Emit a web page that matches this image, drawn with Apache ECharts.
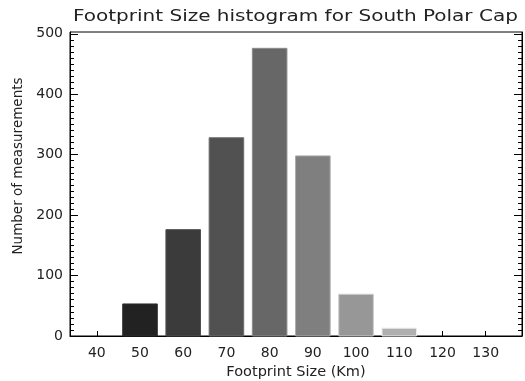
<!DOCTYPE html>
<html>
<head>
<meta charset="utf-8">
<script src="https://cdn.jsdelivr.net/npm/echarts@6/dist/echarts.min.js"></script>
<style>
html,body{margin:0;padding:0;background:#fff;}
#main{width:525px;height:381px;}
</style>
</head>
<body>
<div id="main"></div>
<script>
const titleText = 'Footprint Size histogram for South Polar Cap';
const xAxisName = 'Footprint Size (Km)';
const yAxisName = 'Number of measurements';
const xTicks = [40, 50, 60, 70, 80, 90, 100, 110, 120, 130];
const binCenters = [50, 60, 70, 80, 90, 100, 110];
const counts = [53, 176, 328, 476, 298, 69, 13];
const barColors = ['#222222', '#3b3b3b', '#515151', '#676767', '#7f7f7f', '#979797', '#afafaf'];
const yTicks = [0, 100, 200, 300, 400, 500];

const FONT = 'DejaVu Sans';
const chart = echarts.init(document.getElementById('main'), null, {renderer: 'canvas'});
const halfWidth = 4;

const seriesData = binCenters.map((c, i) => ({value: [c, counts[i]], itemStyle: {color: barColors[i]}}));

chart.setOption({
  animation: false,
  backgroundColor: '#fff',
  graphic: [{
    type: 'text', x: 73, y: 17, scaleX: 1.25, originX: 0, originY: 0,
    style: {text: titleText, font: '16px "DejaVu Sans"', fill: '#222', textAlign: 'left', textVerticalAlign: 'middle'}
  }, {
    type: 'text', x: 18, y: 166, rotation: Math.PI / 2, originX: 0, originY: 0,
    style: {text: yAxisName, font: '13.5px "DejaVu Sans"', fill: '#222', textAlign: 'center', textVerticalAlign: 'middle'}
  }],
  grid: {left: 70, right: 3, top: 32, bottom: 45, show: true, borderColor: '#000', borderWidth: 1,
         containLabel: false, outerBoundsMode: 'none'},
  xAxis: {
    type: 'value', min: 33.8, max: 138.4,
    name: xAxisName, nameLocation: 'middle', nameGap: 29,
    nameTextStyle: {fontFamily: FONT, fontSize: 14.5, color: '#222'},
    axisLine: {show: true, onZero: false, lineStyle: {color: '#000'}},
    axisTick: {show: true, inside: true, length: 5, customValues: xTicks, lineStyle: {color: '#000'}},
    axisLabel: {customValues: xTicks, fontFamily: FONT, fontSize: 14, color: '#222', margin: 10},
    splitLine: {show: false}
  },
  yAxis: [{
    type: 'value', min: 0, max: 503,
    axisLine: {show: true, lineStyle: {color: '#000'}},
    axisTick: {show: true, inside: true, length: 8, customValues: yTicks, lineStyle: {color: '#000'}},
    minorTick: {show: true, splitNumber: 10, length: 4, lineStyle: {color: '#000'}},
    axisLabel: {customValues: yTicks, fontFamily: FONT, fontSize: 14, color: '#222', margin: 7, padding: [0, 0, 6, 0]},
    splitLine: {show: false}, minorSplitLine: {show: false}
  }, {
    type: 'value', min: 0, max: 503, position: 'right',
    axisLine: {show: true, lineStyle: {color: '#000'}},
    axisTick: {show: true, inside: true, length: 8, customValues: yTicks, lineStyle: {color: '#000'}},
    minorTick: {show: true, splitNumber: 10, length: 4, lineStyle: {color: '#000'}},
    axisLabel: {show: false},
    splitLine: {show: false}, minorSplitLine: {show: false}
  }],
  series: [{
    type: 'custom',
    data: seriesData,
    renderItem: function (params, api) {
      const x = api.value(0), y = api.value(1);
      const p1 = api.coord([x - halfWidth, y]);
      const p2 = api.coord([x + halfWidth, 0]);
      const col = api.visual('color');
      return {
        type: 'rect',
        shape: {x: p1[0], y: p1[1], width: p2[0] - p1[0], height: p2[1] - p1[1]},
        style: {fill: col, stroke: echarts.color.lift(col, -0.35), lineWidth: 1}
      };
    },
    z: 1
  }]
});
</script>
</body>
</html>
